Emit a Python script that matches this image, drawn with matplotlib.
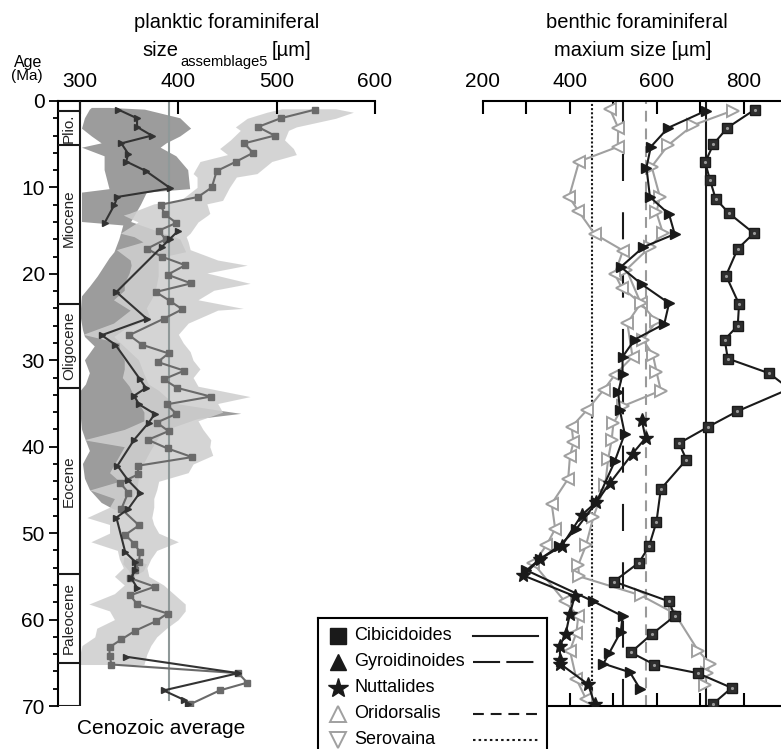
import numpy as np
import matplotlib.pyplot as plt
from matplotlib.patches import Rectangle

plt.rcParams['font.family'] = ['Liberation Sans', 'DejaVu Sans']

# ---- planktic data (age in Ma, size in um) ----
pl_dark_age = [1.0, 2.0, 3.0, 4.0, 4.9, 6.1, 7.0, 8.1, 10.1, 11.1, 12.0, 14.1, np.nan,
               15.0, 16.0, 16.9, 22.1, 25.2, 27.1, 28.2, 32.2, 33.2, 34.1, 35.1, 36.2,
               37.2, 39.2, 42.2, 43.9, 45.3, 47.2, 48.2, 52.2, 53.3, 54.3, 55.2, 56.3, np.nan,
               64.3, 66.2, 68.2, 69.3, 69.8]
pl_dark_val = [339, 358, 358, 373, 342, 349, 347, 367, 392, 338, 335, 325, np.nan,
               400, 391, 383, 337, 368, 322, 336, 361, 367, 355, 360, 376,
               370, 355, 338, 349, 361, 349, 337, 346, 356, 356, 352, 358, np.nan,
               347, 461, 385, 406, 410]

pl_grey_age = [1.0, 2.0, 3.0, 4.0, 4.9, 6.0, 7.0, 8.1, 10.0, 11.1, 12.0, 13.1, 14.1, 15.0,
               16.0, 17.1, 18.0, 19.0, 20.1, 21.1, 22.1, 23.1, 24.1, 25.2, 27.1, 28.2, 29.2,
               30.2, 31.2, 32.2, 33.2, 34.2, 35.1, 36.2, 37.2, 38.2, 39.2, 40.2, 41.2, 42.2,
               43.2, 44.2, 45.3, 47.2, 49.1, 50.2, 51.2, 52.2, 53.3, 54.3, 55.2, 56.2, 57.2,
               58.2, 59.3, 60.2, 61.3, 62.3, 63.2, 64.2, 65.2, 66.2, 67.3, 68.2, 69.8]
pl_grey_val = [539, 504, 481, 498, 467, 476, 459, 439, 434, 420, 382, 386, 398, 380,
               387, 368, 383, 407, 389, 413, 377, 391, 404, 385, 350, 363, 390,
               379, 406, 385, 399, 433, 388, 398, 378, 390, 369, 389, 414, 359,
               359, 341, 349, 342, 360, 346, 355, 361, 360, 356, 351, 376, 351,
               358, 389, 377, 356, 342, 330, 330, 332, 461, 470, 442, 412]

band_dark_age = [0.8, 1.0, 2.0, 3.2, 4.1, 4.9, 5.4, 6.4, 8.0, 10.2, 10.6, 12.0, 14.0, 14.4,
                 16.0, 17.5, 18.2, 20.3, 21.5, 22.6, 24.0, 25.2, 26.5, 27.3, 28.4, 30.0,
                 31.5, 32.8, 33.5, 35.0, 35.8, 36.2, 36.8, 38.0, 39.0, 40.5, 42.0, 43.7,
                 45.0, 46.5, 47.3, np.nan, 52.8, 53.6, 54.4, 55.2]
band_dark_lo = [312, 310, 305, 302, 312, 322, 302, 325, 325, 330, 302, 302, 302, 344,
                340, 335, 330, 318, 310, 302, 301, 301, 303, 305, 315, 305,
                310, 306, 301, 301, 301, 301, 301, 302, 305, 310, 303, 305,
                310, 322, 335, np.nan, 345, 344, 350, 352]
band_dark_hi = [330, 366, 402, 413, 402, 388, 382, 398, 410, 412, 368, 362, 352, 362,
                402, 408, 380, 380, 378, 375, 368, 372, 345, 335, 345, 360,
                365, 370, 380, 395, 440, 464, 420, 390, 380, 372, 365, 360,
                358, 352, 338, np.nan, 346, 368, 365, 353]

band_light_age = [0.9, 1.3, 2.0, 3.0, 3.4, 4.5, 5.5, 6.2, 7.0, 8.4, 8.8, 10.0, 11.5, 11.9,
                  13.0, 13.2, 14.0, 15.3, 15.7, 16.3, 17.2, 18.4, 19.0, 19.9, 21.1, 21.9,
                  23.0, 24.0, 24.2, 25.7, 27.0, 28.0, 29.0, 30.0, 31.0, 32.0, 33.0, 34.2,
                  35.0, 36.0, 37.0, 38.0, 39.2, 40.0, 41.0, 42.0, 43.0, 44.0, 45.0, 46.0,
                  47.0, 48.2, 49.0, 50.0, 51.0, 52.0, 53.0, 54.0, 55.0, 56.0, 57.0, 58.2,
                  59.0, 60.0, 61.0, 62.0, 63.0, 64.0, 65.2]
band_light_lo = [505, 490, 470, 458, 463, 453, 442, 450, 422, 415, 419, 419, 402, 375,
                 350, 344, 359, 341, 355, 364, 337, 351, 352, 350, 345, 345,
                 334, 348, 351, 334, 303, 340, 340, 345, 345, 343, 350, 355,
                 360, 365, 365, 345, 304, 345, 340, 335, 330, 340, 310, 335,
                 330, 307, 330, 330, 311, 338, 340, 344, 335, 345, 335, 309,
                 330, 335, 317, 315, 302, 300, 300]
band_light_hi = [560, 578, 560, 520, 512, 508, 517, 520, 495, 480, 459, 452, 445, 429,
                 432, 430, 420, 412, 408, 410, 412, 440, 470, 429, 473, 436,
                 420, 466, 440, 410, 400, 405, 412, 415, 422, 415, 420, 473,
                 440, 445, 420, 425, 433, 432, 435, 415, 410, 380, 378, 375,
                 375, 373, 375, 380, 400, 378, 372, 368, 370, 385, 395, 407,
                 407, 400, 388, 378, 372, 368, 365]

cenozoic_avg = 390

epoch_names = ['', 'Plio.', 'Miocene', 'Oligocene', 'Eocene', 'Paleocene', '']
epoch_bounds = [0, 1.2, 5.1, 23.5, 33.2, 54.7, 65.0, 70]

# ---- benthic data ----
cib_age = [1.0, 3.1, 5.0, 7.1, 9.1, 11.3, 13.0, 15.3, 17.1, 20.2, 23.5, 26.0, 27.6, 29.8,
           31.5, 33.3, 35.9, 37.7, 39.6, 41.5, 44.9, 48.7, 51.5, 53.4, 55.6, 57.9, 59.6,
           61.7, 63.8, 65.2, 66.2, 67.9, 69.8]
cib_val = [825, 762, 730, 711, 722, 735, 766, 823, 786, 759, 789, 786, 756, 763,
           858, 905, 785, 718, 651, 668, 609, 599, 582, 559, 501, 628, 641,
           588, 540, 594, 694, 772, 728]

gyr_age = [1.1, 3.1, 5.3, 7.7, 11.1, 13.1, 15.4, 16.9, 19.2, 21.2, 23.4, 25.8, 27.6, 29.6,
           31.6, 33.7, 35.8, 38.5, 41.7, 46.4, 49.5, 51.5, 53.0, 54.3, 57.9, 59.6, 61.4,
           63.9, 65.1, 66.1, 68.0]
gyr_val = [714, 626, 586, 576, 584, 628, 641, 569, 517, 565, 628, 617, 549, 521,
           521, 511, 515, 526, 503, 461, 415, 375, 331, 300, 454, 521, 517,
           490, 477, 538, 561]

nut_age = [36.9, 39.0, 40.8, 44.2, 46.4, 47.9, 51.5, 53.0, 54.9, 57.3, 59.3, 61.7, 63.0,
           64.7, 65.1, 67.5, 69.8]
nut_val = [565, 574, 544, 492, 461, 427, 381, 331, 293, 411, 400, 390, 377,
           377, 377, 442, 457]

ori_age = [1.1, 2.8, 5.1, 7.6, 11.1, 12.9, 15.3, 16.9, 19.5, 23.4, 25.5, 27.6, 29.4, 31.3,
           33.5, 35.3, 37.3, 39.2, 41.4, 44.4, 48.1, 51.4, 53.7, 55.0, 57.2, 59.3, 63.6,
           65.1, 66.2, 67.6]
ori_val = [775, 683, 626, 588, 607, 599, 614, 584, 530, 563, 599, 568, 591, 599,
           609, 522, 500, 496, 488, 481, 454, 437, 419, 421, 563, 641, 695,
           722, 716, 710]

ser_age = [0.95, 3.1, 5.3, 7.0, 11.1, 12.7, 15.4, 17.3, 20.0, 21.6, 23.4, 25.7, 29.6, 31.7,
           33.4, 35.7, 37.7, 39.5, 41.1, 43.7, 46.6, 49.5, 51.4, 53.5, 57.9, 59.6, 61.5,
           63.6, 66.9, 69.2]
ser_val = [492, 511, 510, 421, 398, 419, 457, 522, 503, 519, 563, 532, 544, 503,
           478, 440, 404, 408, 400, 396, 358, 366, 346, 316, 388, 419, 415,
           400, 415, 437]

mean_cib, mean_gyr, mean_ori, mean_ser = 713, 522, 575, 450

legend_names = ['Cibicidoides', 'Gyroidinoides', 'Nuttalides', 'Oridorsalis', 'Serovaina']

# ---- layout (pixels) ----
W, H = 781, 749
fig = plt.figure(figsize=(W / 100, H / 100), dpi=100)


def frame(x0, x1, ytop, ybot):
    return [x0 / W, 1 - ybot / H, (x1 - x0) / W, (ybot - ytop) / H]


def fx(x):
    return x / W


def fy(y):
    return 1 - y / H


BLK = '#1a1a1a'
GREY = '#9a9a9a'

# ================= left panel =================
axL = fig.add_axes(frame(58, 375, 101, 706))
axL.set_xlim(277.6, 600)
axL.set_ylim(70, 0)
axL.spines['right'].set_visible(False)
axL.spines['bottom'].set_visible(False)
axL.spines['top'].set_linewidth(1.5)
axL.spines['left'].set_linewidth(1.5)
axL.xaxis.tick_top()
axL.set_xticks([300, 400, 500, 600])
axL.tick_params(axis='x', direction='in', length=9.5, width=1.5, labelsize=15, pad=7)
axL.set_yticks(range(0, 71, 10))
axL.set_yticks(range(0, 71, 2), minor=True)
axL.tick_params(axis='y', which='major', direction='out', length=6.5, width=1.3,
                labelsize=15, pad=3)
axL.tick_params(axis='y', which='minor', direction='out', length=3.5, width=1.3)

axL.fill_betweenx(band_dark_age, band_dark_lo, band_dark_hi, color='#9c9c9c', lw=0, zorder=1)
axL.fill_betweenx(band_light_age, band_light_lo, band_light_hi, color='#cfcfcf', lw=0,
                  alpha=0.88, zorder=1.5)
axL.axvline(cenozoic_avg, color='#8f9999', lw=1.5, ymin=0.01, zorder=2)
axL.plot(pl_grey_val, pl_grey_age, color='#6a6a6a', lw=1.5, marker='s', ms=4.5,
         mfc='#6a6a6a', mec='#6a6a6a', zorder=3)
axL.plot(pl_dark_val, pl_dark_age, color='#333333', lw=1.5, marker='>', ms=4,
         mfc='#333333', mec='#333333', zorder=3.5)

# stratigraphic column
axL.axvline(300, color=BLK, lw=1.5, zorder=4)
axL.hlines(epoch_bounds[1:], 277.6, 300, color=BLK, lw=1.5, zorder=4)
for name, a0, a1 in zip(epoch_names, epoch_bounds[:-1], epoch_bounds[1:]):
    if name:
        mid = 13.6 if name == 'Miocene' else (a0 + a1) / 2
        axL.text(288.8, mid, name, rotation=90, ha='center', va='center', fontsize=11,
                 color='#222222', zorder=5)

fig.text(fx(28), fy(62), 'Age', ha='center', va='center', fontsize=11.5)
fig.text(fx(27), fy(76), '(Ma)', ha='center', va='center', fontsize=11)
fig.text(fx(227), fy(22), 'planktic foraminiferal', ha='center', va='center', fontsize=14.5)
fig.text(fx(142), fy(50), 'size', ha='left', va='center', fontsize=14.5)
fig.text(fx(180), fy(62), 'assemblage5', ha='left', va='center', fontsize=10.5)
fig.text(fx(272), fy(50), '[µm]', ha='left', va='center', fontsize=14.5)
fig.text(fx(161), fy(728), 'Cenozoic average', ha='center', va='center', fontsize=15)

# ================= right panel =================
axR = fig.add_axes(frame(483, 796, 101, 706))
axR.set_xlim(200, 920)
axR.set_ylim(70, 0)
axR.spines['left'].set_visible(False)
axR.spines['right'].set_visible(False)
axR.spines['top'].set_linewidth(1.5)
axR.spines['bottom'].set_linewidth(1.5)
axR.set_yticks([])
axR.set_xticks([200, 400, 600, 800])
axR.set_xticks([300, 500, 700, 900], minor=True)
axR.tick_params(axis='x', which='both', top=True, bottom=True, labeltop=True,
                labelbottom=False, direction='in', length=9.5, width=1.5, labelsize=15, pad=7)

axR.axvline(mean_cib, color=BLK, lw=1.5, zorder=1)
axR.axvline(mean_gyr, color=BLK, lw=1.5, ls=(0, (13, 15)), zorder=1)
axR.axvline(mean_ori, color=GREY, lw=1.5, ls=(0, (5.2, 3.3)), zorder=1)
axR.axvline(mean_ser, color=BLK, lw=1.5, ls=(0, (1, 1)), zorder=1)

axR.plot(ser_val, ser_age, color='#a0a0a0', lw=1.5, marker='<', ms=9, mfc='white',
         mec='#a0a0a0', mew=1.4, zorder=2)
axR.plot(ori_val, ori_age, color='#a0a0a0', lw=1.5, marker='>', ms=9, mfc='white',
         mec='#a0a0a0', mew=1.4, zorder=2)
axR.plot(nut_val, nut_age, color=BLK, lw=1.5, marker='*', ms=10, mfc=BLK, mec=BLK, zorder=3)
axR.plot(gyr_val, gyr_age, color=BLK, lw=1.5, marker='>', ms=7.5, mfc=BLK, mec=BLK, zorder=3)
axR.plot(cib_val, cib_age, color=BLK, lw=1.5, marker='s', ms=7, mfc='#2e2e2e', mec=BLK,
         zorder=3)
axR.plot(cib_val, cib_age, ls='none', marker='.', ms=2.5, color='#9a9a9a', zorder=3.5)

fig.text(fx(637), fy(23), 'benthic foraminiferal', ha='center', va='center', fontsize=14.5)
fig.text(fx(633), fy(50), 'maxium size [µm]', ha='center', va='center', fontsize=14.5)

# ================= legend =================
lax = fig.add_axes(frame(318, 547, 618, 770))
lax.set_zorder(10)
lax.set_xlim(318, 547)
lax.set_ylim(770, 618)
lax.set_xticks([])
lax.set_yticks([])
for s in lax.spines.values():
    s.set_linewidth(1.5)

rows = [636, 662, 688, 714, 740]
marks = [dict(marker='s', ms=11, mfc=BLK, mec=BLK),
         dict(marker='^', ms=12, mfc=BLK, mec=BLK),
         dict(marker='*', ms=15, mfc=BLK, mec=BLK),
         dict(marker='^', ms=12, mfc='white', mec='#a0a0a0', mew=1.4),
         dict(marker='v', ms=12, mfc='white', mec='#a0a0a0', mew=1.4)]
styles = ['-', (0, (13, 3)), None, (0, (5.2, 3.3)), (0, (1.2, 1.5))]
for name, y, mk, st in zip(legend_names, rows, marks, styles):
    lax.plot([338], [y], ls='none', **mk)
    lax.text(354, y, name, ha='left', va='center', fontsize=13)
    if st is not None:
        lax.plot([473, 538], [y, y], color=BLK, lw=1.5, ls=st)

fig.savefig('out.png', dpi=100)
